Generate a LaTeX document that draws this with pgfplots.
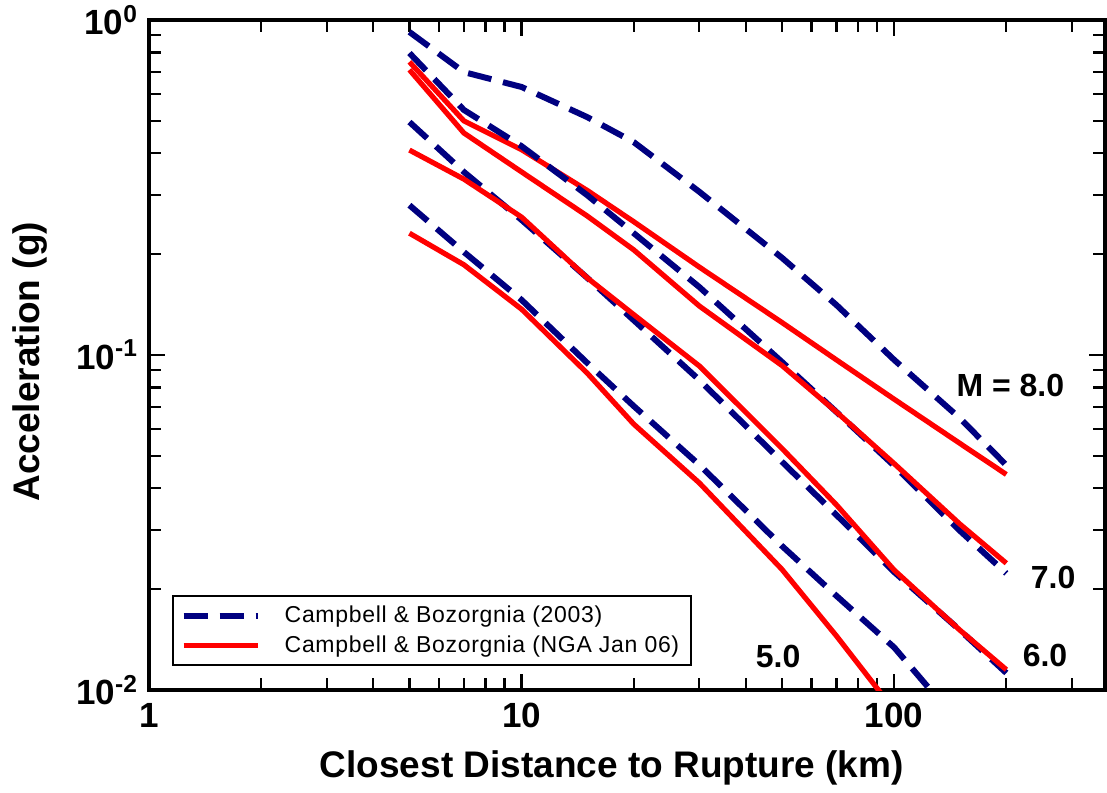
\documentclass[border=0pt]{standalone}
\usepackage{fontspec}
\setmainfont{Liberation Sans}
\usepackage{pgfplots}
\pgfplotsset{compat=1.18}
\definecolor{cbnavy}{RGB}{0,0,128}
\definecolor{cbred}{RGB}{255,0,0}
\begin{document}
\begin{tikzpicture}
\begin{axis}[
  scale only axis, width=478pt, height=335pt,
  xmode=log, ymode=log,
  xmin=1, xmax=368, ymin=0.01, ymax=1,
  axis line style={line width=2.2pt},
  every tick/.style={black, line width=1.1pt},
  major tick length=8pt, minor tick length=6pt,
  xtick={1,10,100}, xticklabels={1,10,100},
  minor xtick={2,3,4,5,6,7,8,9,20,30,40,50,60,70,80,90,200,300},
  ytick={0.01,0.1,1},
  yticklabels={10\textsuperscript{-2},10\textsuperscript{-1},10\textsuperscript{0}},
  minor ytick={0.02,0.03,0.04,0.05,0.06,0.07,0.08,0.09,0.2,0.3,0.4,0.5,0.6,0.7,0.8,0.9},
  tick label style={font=\fontsize{17.5}{20}\selectfont\bfseries},
  xticklabel style={yshift=-3pt},
  yticklabel style={xshift=-2pt},
  xlabel={Closest Distance to Rupture (km)},
  ylabel={Acceleration (g)},
  every axis x label/.style={at={(axis description cs:0.484,-0.116)}, anchor=center,
    font=\fontsize{18.5}{22}\selectfont\bfseries},
  every axis y label/.style={at={(axis description cs:-0.124,0.49)}, rotate=90, anchor=center,
    font=\fontsize{18.5}{22}\selectfont\bfseries},
  legend style={at={(axis description cs:0.024,0.036)}, anchor=south west, draw=black, line width=0.8pt,
    font=\fontsize{11.5}{13}\selectfont\addfontfeature{LetterSpace=3}, inner xsep=4pt, inner ysep=3pt, row sep=1pt, cells={anchor=west}},
  legend image code/.code={\draw[#1] (0pt,0pt) -- (37pt,0pt);},
  legend cell align=left,
  blue/.style={color=cbnavy, line width=3pt, dash pattern=on 12pt off 6pt},
  red/.style={color=cbred, line width=2.6pt},
]
% M = 8.0
\addplot[blue] coordinates {(5,0.921)(7,0.699)(10,0.631)(15,0.513)(20,0.432)(30,0.307)(50,0.195)(70,0.141)(100,0.0967)(150,0.0648)(200,0.0469)};
\addlegendentry{\hspace{10pt}Campbell \& Bozorgnia (2003)}
\addplot[red] coordinates {(5,0.75)(7,0.50)(10,0.41)(15,0.31)(20,0.25)(30,0.183)(50,0.125)(70,0.0967)(100,0.0738)(150,0.0545)(200,0.044)};
\addlegendentry{\hspace{10pt}Campbell \& Bozorgnia (NGA Jan 06)}
% M = 7.0
\addplot[blue, forget plot] coordinates {(5,0.797)(7,0.539)(10,0.420)(15,0.300)(20,0.231)(30,0.1595)(50,0.0953)(70,0.0676)(100,0.0467)(150,0.0299)(200,0.0223)};
\addplot[red, forget plot] coordinates {(5,0.71)(7,0.460)(10,0.352)(15,0.260)(20,0.206)(30,0.140)(50,0.093)(70,0.0676)(100,0.0474)(150,0.0313)(200,0.0239)};
% M = 6.0
\addplot[blue, forget plot] coordinates {(5,0.496)(7,0.352)(10,0.253)(15,0.170)(20,0.127)(30,0.0842)(50,0.048)(70,0.0333)(100,0.0225)(150,0.0151)(200,0.01124)};
\addplot[red, forget plot] coordinates {(5,0.409)(7,0.335)(10,0.258)(15,0.170)(20,0.132)(30,0.0927)(50,0.0526)(70,0.0357)(100,0.0228)(150,0.0151)(200,0.0115)};
% M = 5.0
\addplot[blue, forget plot] coordinates {(5,0.28)(7,0.203)(10,0.146)(15,0.0947)(20,0.0704)(30,0.047)(50,0.0269)(70,0.0191)(100,0.0134)(150,0.0079)(200,0.0057)};
\addplot[red, forget plot] coordinates {(5,0.231)(7,0.186)(10,0.137)(15,0.0883)(20,0.0622)(30,0.0415)(50,0.0229)(70,0.0145)(100,0.0087)(150,0.0048)(200,0.003)};
\node[font=\fontsize{16}{18}\selectfont\bfseries] at (axis cs:205,0.0813) {M = 8.0};
\node[font=\fontsize{16}{18}\selectfont\bfseries] at (axis cs:267,0.0217) {7.0};
\node[font=\fontsize{16}{18}\selectfont\bfseries] at (axis cs:254,0.0127) {6.0};
\node[font=\fontsize{16}{18}\selectfont\bfseries] at (axis cs:48.8,0.01255) {5.0};
\end{axis}
\pgfresetboundingbox
\path[use as bounding box] ([shift={(-74.5pt,-51pt)}]current axis.south west) rectangle ++(553.5pt,396pt);
\end{tikzpicture}
\end{document}
